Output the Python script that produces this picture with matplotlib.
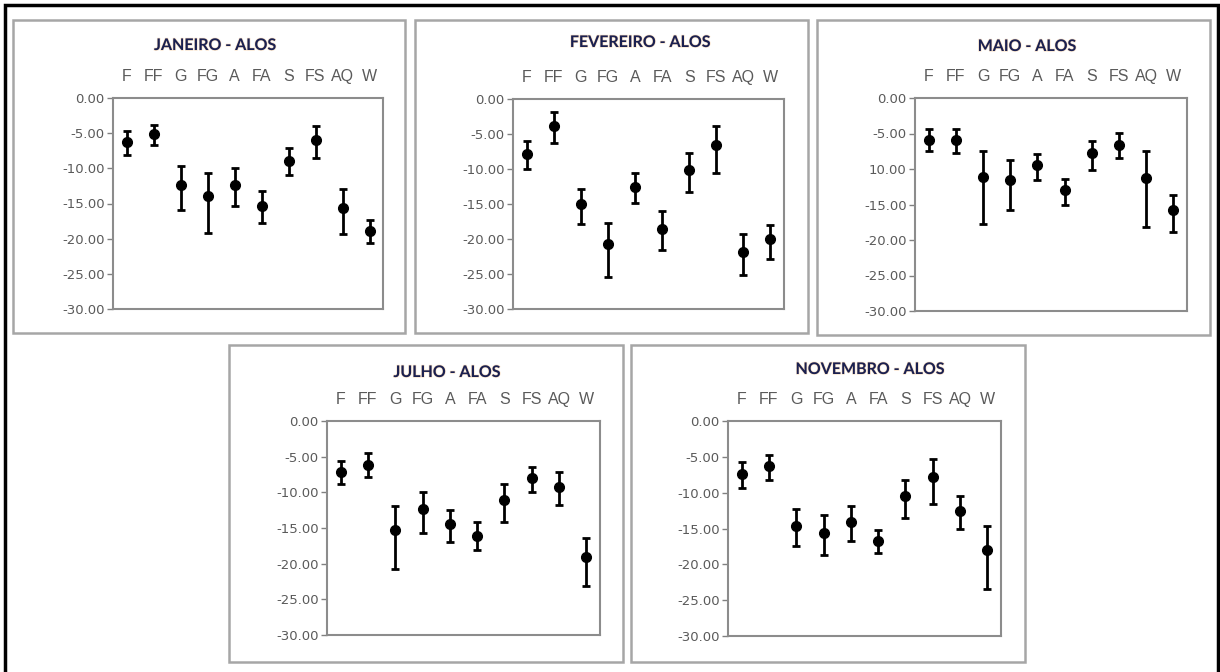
import numpy as np
import matplotlib
matplotlib.use('Agg')
import matplotlib.pyplot as plt
from matplotlib.patches import Rectangle
import matplotlib.patheffects as pe


categories = ['F', 'FF', 'G', 'FG', 'A', 'FA', 'S', 'FS', 'AQ', 'W']

# mean values and the ends of each error bar (top / bottom)
jan_mean = [-6.3, -5.1, -12.4, -13.9, -12.3, -15.3, -8.9, -6.0, -15.6, -18.9]
jan_top = [-4.7, -3.8, -9.7, -10.6, -10.0, -13.2, -7.1, -4.0, -12.9, -17.4]
jan_bot = [-8.1, -6.7, -15.9, -19.2, -15.3, -17.8, -11.0, -8.5, -19.4, -20.6]

fev_mean = [-7.8, -3.8, -15.0, -20.7, -12.5, -18.5, -10.2, -6.6, -21.8, -20.0]
fev_top = [-6.0, -1.9, -12.9, -17.7, -10.5, -16.0, -7.7, -3.8, -19.3, -18.0]
fev_bot = [-10.0, -6.3, -17.9, -25.4, -14.9, -21.6, -13.3, -10.6, -25.1, -22.8]

mai_mean = [-5.85, -5.85, -11.1, -11.6, -9.5, -13.0, -7.8, -6.6, -11.3, -15.8]
mai_top = [-4.4, -4.3, -7.4, -8.8, -7.9, -11.4, -6.1, -4.9, -7.4, -13.6]
mai_bot = [-7.5, -7.8, -17.7, -15.8, -11.5, -15.1, -10.1, -8.5, -18.1, -18.9]

jul_mean = [-7.2, -6.2, -15.3, -12.4, -14.5, -16.1, -11.1, -8.0, -9.2, -19.1]
jul_top = [-5.65, -4.5, -11.9, -10.0, -12.5, -14.2, -8.8, -6.4, -7.1, -16.4]
jul_bot = [-8.9, -7.85, -20.7, -15.7, -17.0, -18.1, -14.1, -10.0, -11.8, -23.1]

nov_mean = [-7.4, -6.3, -14.6, -15.6, -14.1, -16.7, -10.5, -7.8, -12.5, -18.0]
nov_top = [-5.7, -4.8, -12.3, -13.1, -11.9, -15.2, -8.3, -5.3, -10.4, -14.7]
nov_bot = [-9.4, -8.2, -17.5, -18.7, -16.7, -18.4, -13.5, -11.6, -15.1, -23.5]

yticks = [0, -5, -10, -15, -20, -25, -30]
ytick_labels = ['0.00', '-5.00', '-10.00', '-15.00', '-20.00', '-25.00', '-30.00']
ytick_labels_maio = ['0.00', '-5.00', '10.00', '-15.00', '-20.00', '-25.00', '-30.00']

W, H = 1220, 672
fig = plt.figure(figsize=(W / 100, H / 100), dpi=100)
fig.patch.set_facecolor('white')


def px_rect(x0, y0, x1, y1):
    # pixel box (top-left origin) -> figure fraction [left, bottom, width, height]
    return [x0 / W, 1 - y1 / H, (x1 - x0) / W, (y1 - y0) / H]


# outer black frame (bottom edge runs off the figure)
fig.patches.append(Rectangle((5 / W, -0.05), 1213 / W, 1.05 - 5 / H,
                             transform=fig.transFigure, fill=False,
                             edgecolor='black', linewidth=2.5, zorder=0))

panels = [
    ('JANEIRO - ALOS', jan_mean, jan_top, jan_bot, ytick_labels,
     (13, 20, 405, 333), (113, 98, 383, 309), (215, 46)),
    ('FEVEREIRO - ALOS', fev_mean, fev_top, fev_bot, ytick_labels,
     (415, 20, 808, 333), (513, 99, 784, 309), (640, 43)),
    ('MAIO - ALOS', mai_mean, mai_top, mai_bot, ytick_labels_maio,
     (817, 20, 1210, 335), (915, 98, 1187, 311), (1027, 47)),
    ('JULHO - ALOS', jul_mean, jul_top, jul_bot, ytick_labels,
     (229, 345, 623, 662), (327, 421, 600, 635), (447, 373)),
    ('NOVEMBRO - ALOS', nov_mean, nov_top, nov_bot, ytick_labels,
     (631, 345, 1025, 662), (728, 421, 1001, 636), (870, 370)),
]

x = np.arange(1, len(categories) + 1)

for title, mean, top, bot, ylabels, box, axbox, tpos in panels:
    # gray frame around each chart
    b = px_rect(*box)
    fig.patches.append(Rectangle((b[0], b[1]), b[2], b[3], transform=fig.transFigure,
                                 fill=False, edgecolor='#a6a6a6', linewidth=1.8, zorder=1))

    ax = fig.add_axes(px_rect(*axbox))
    mean = np.array(mean)
    err = [mean - np.array(bot), np.array(top) - mean]
    ax.errorbar(x, mean, yerr=err, fmt='o', color='black', markersize=7,
                elinewidth=2, capsize=3, capthick=2)

    ax.set_xlim(0.5, 10.5)
    ax.set_ylim(-30, 0)
    ax.set_yticks(yticks)
    ax.set_yticklabels(ylabels, fontsize=9.5, color='#5a5a5a', family='DejaVu Sans')
    ax.xaxis.tick_top()
    ax.set_xticks(x)
    ax.set_xticklabels(categories, fontsize=11.5, color='#5a5a5a', family='Liberation Sans')
    ax.tick_params(axis='x', length=0, pad=10)
    ax.tick_params(axis='y', length=4, width=1, color='#808080', pad=2)
    for s in ax.spines.values():
        s.set_color('#8c8c8c')
        s.set_linewidth(1.5)

    fig.text(tpos[0] / W, 1 - tpos[1] / H, title, ha='center', va='center',
             fontsize=11.5, fontweight='bold', family='Lato', color='#1a2050',
             path_effects=[pe.withStroke(linewidth=1.0, foreground='#f2c08a', alpha=0.45)])

fig.savefig('out.png', dpi=100)
